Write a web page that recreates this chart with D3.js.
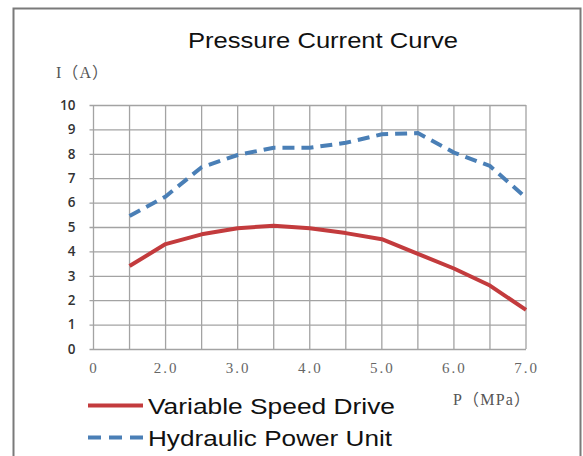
<!DOCTYPE html>
<html>
<head>
<meta charset="utf-8">
<script src="https://cdn.jsdelivr.net/npm/d3@7"></script>
<style>
  body { margin: 0; background: #fff; }
  svg { display: block; }
</style>
</head>
<body>
<svg id="chart" width="583" height="456"></svg>
<script>
// pressure points (MPa) shared by both curves
var pressure = [1.5, 2.0, 2.5, 3.0, 3.5, 4.0, 4.5, 5.0, 5.5, 6.0, 6.5, 7.0];
var vsdCurrent = [3.4, 4.3, 4.7, 4.95, 5.05, 4.95, 4.75, 4.5, 3.9, 3.3, 2.6, 1.6];
var hpuCurrent = [5.45, 6.25, 7.45, 7.95, 8.25, 8.25, 8.45, 8.8, 8.85, 8.05, 7.5, 6.2];

var xTicks = [1, 2, 3, 4, 5, 6, 7];
var xTickLabels = ['0', '2.0', '3.0', '4.0', '5.0', '6.0', '7.0'];
var yTicks = [0, 1, 2, 3, 4, 5, 6, 7, 8, 9, 10];

var seriesNames = ['Variable Speed Drive', 'Hydraulic Power Unit'];

var RED = '#c33b3d', BLUE = '#4a7fb6', GRID = '#a3a3a3';

var svg = d3.select('#chart');

// outer frame
svg.append('rect')
    .attr('x', 13.5).attr('y', 8.5)
    .attr('width', 567).attr('height', 460)
    .style('fill', 'none').style('stroke', '#7a7a7a').style('stroke-width', 2);

var x = d3.scaleLinear().domain([1, 7]).range([93.5, 526]);
var y = d3.scaleLinear().domain([0, 10]).range([349, 105]);

// vertical grid, every 0.5 MPa
svg.append('g').selectAll('line')
    .data(d3.range(1, 7.001, 0.5))
    .enter().append('line')
    .attr('x1', function (d) { return x(d); })
    .attr('x2', function (d) { return x(d); })
    .attr('y1', y(0)).attr('y2', y(10))
    .style('stroke', GRID).style('stroke-width', 1.3);

// y axis with horizontal grid
var yAxis = svg.append('g')
    .attr('transform', 'translate(' + x(1) + ',0)')
    .call(d3.axisLeft(y).tickValues(yTicks).tickSizeInner(-(x(7) - x(1))).tickSizeOuter(0).tickPadding(18));
yAxis.select('.domain').remove();
yAxis.selectAll('.tick line')
    .attr('x1', -4)
    .style('stroke', GRID).style('stroke-width', 1.3);
yAxis.selectAll('.tick text')
    .style('font-family', '"Open Sans", sans-serif')
    .style('font-weight', 600)
    .style('font-size', '13.5px')
    .style('fill', '#333');

// x axis labels
var xAxis = svg.append('g')
    .attr('transform', 'translate(0,' + y(0) + ')')
    .call(d3.axisBottom(x).tickValues(xTicks).tickSize(0).tickPadding(13)
        .tickFormat(function (d, i) { return xTickLabels[i]; }));
xAxis.select('.domain').remove();
xAxis.selectAll('.tick text')
    .style('font-family', '"Liberation Serif", serif')
    .style('font-size', '15px')
    .style('letter-spacing', '2px')
    .style('fill', '#666');

// curves
var line = d3.line()
    .x(function (d) { return x(d[0]); })
    .y(function (d) { return y(d[1]); });

svg.append('path')
    .datum(d3.zip(pressure, vsdCurrent))
    .attr('d', line)
    .style('fill', 'none').style('stroke', RED).style('stroke-width', 4)
    .style('stroke-linejoin', 'round');

svg.append('path')
    .datum(d3.zip(pressure, hpuCurrent))
    .attr('d', line)
    .style('fill', 'none').style('stroke', BLUE).style('stroke-width', 4)
    .style('stroke-dasharray', '12,7');

// title
svg.append('text')
    .attr('x', 188).attr('y', 48)
    .attr('textLength', 270).attr('lengthAdjust', 'spacingAndGlyphs')
    .style('font-family', '"Liberation Sans", Arial, sans-serif')
    .style('font-size', '22.5px')
    .style('fill', '#111')
    .text('Pressure Current Curve');

// axis titles
svg.append('text')
    .attr('x', 56).attr('y', 78)
    .attr('textLength', 52).attr('lengthAdjust', 'spacing')
    .style('font-family', '"Liberation Serif", "Noto Sans CJK SC", serif')
    .style('font-size', '16px')
    .style('fill', '#555')
    .text('I（A）');

svg.append('text')
    .attr('x', 453).attr('y', 405)
    .attr('textLength', 77).attr('lengthAdjust', 'spacing')
    .style('font-family', '"Liberation Serif", "Noto Sans CJK SC", serif')
    .style('font-size', '16px')
    .style('fill', '#555')
    .text('P（MPa）');

// legend
var legend = svg.append('g');
var legendY = [405.5, 437.5];
var legendLen = [247, 244];
seriesNames.forEach(function (name, i) {
    legend.append('line')
        .attr('x1', 88).attr('x2', 143)
        .attr('y1', legendY[i]).attr('y2', legendY[i])
        .style('stroke', i === 0 ? RED : BLUE)
        .style('stroke-width', 4)
        .style('stroke-dasharray', i === 0 ? null : '13,8');
    legend.append('text')
        .attr('x', 148).attr('y', legendY[i] + 8)
        .attr('textLength', legendLen[i]).attr('lengthAdjust', 'spacingAndGlyphs')
        .style('font-family', '"Liberation Sans", Arial, sans-serif')
        .style('font-size', '22px')
        .style('fill', '#111')
        .text(name);
});
</script>
</body>
</html>
